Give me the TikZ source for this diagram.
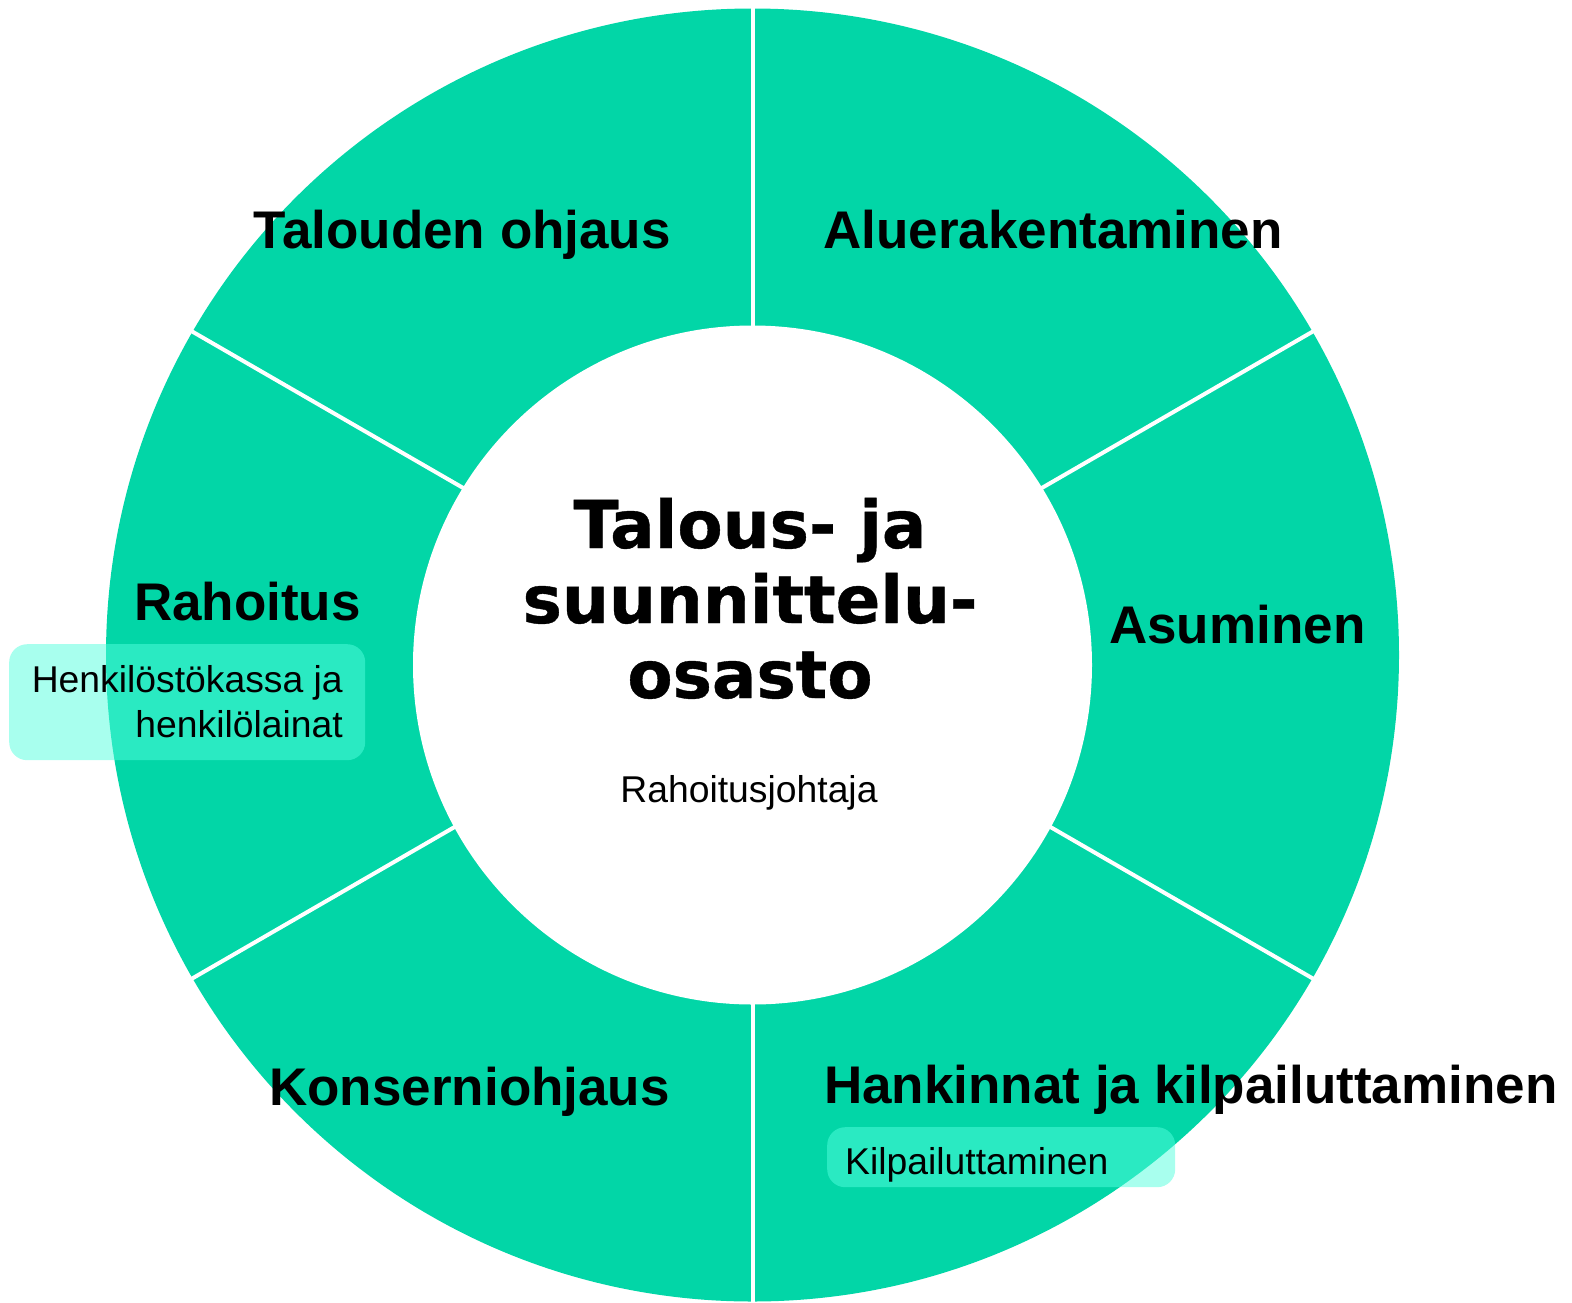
\documentclass[tikz,border=0pt]{standalone}
\usepackage{fontspec}
\setmainfont{Liberation Sans}
\newfontfamily\titlefont{DejaVu Sans}[BoldFeatures={FakeBold=0.6}]
\definecolor{ringgreen}{RGB}{2,214,167}
\definecolor{hlcol}{RGB}{82,255,222}
\begin{document}
\begin{tikzpicture}[x=1pt,y=-1pt,
  seg/.style={font=\bfseries\fontsize{53}{60}\selectfont, inner sep=0pt},
  sub/.style={font=\fontsize{37.3}{43}\selectfont, inner sep=0pt},
  hlbox/.style={fill=hlcol, fill opacity=0.5, rounded corners=18pt, draw=none, inner sep=0pt},
  sepline/.style={white, line width=4pt}]
\useasboundingbox (0,0) rectangle (1572,1302);
\coordinate (c) at (752.5,655);
\coordinate (ci) at (752.5,665);
\fill[ringgreen] (c) circle (646.5);
\foreach \a in {30,90,150,210,270,330} \draw[sepline] (c) -- ++(\a:652);
\fill[white] (ci) circle (339.5);
% title
\node[font=\titlefont\bfseries\fontsize{66}{75}\selectfont, align=center, inner sep=0pt, anchor=base] (title) at (750,698) {Talous- ja\\suunnittelu-\\osasto};
\node[sub, anchor=base] (lead) at (749,802) {Rahoitusjohtaja};
% segment labels
\node[seg, anchor=base east] (tal) at (671,248) {Talouden ohjaus};
\node[seg, anchor=base west] (alu) at (823,248) {Aluerakentaminen};
\node[seg, anchor=base west] (asu) at (1109,643) {Asuminen};
\node[seg, anchor=base east] (rah) at (361,620) {Rahoitus};
\node[seg, anchor=base east] (kon) at (670,1105) {Konserniohjaus};
\node[seg, anchor=base west] (han) at (824,1103) {Hankinnat ja kilpailuttaminen};
% highlight boxes
\node[hlbox, minimum width=356pt, minimum height=116pt, anchor=north west] (box1) at (9,644) {};
\node[sub, anchor=base east] (hk1) at (343,692.5) {Henkilöstökassa ja};
\node[sub, anchor=base east] (hk2) at (343,737) {henkilölainat};
\node[hlbox, minimum width=348pt, minimum height=60pt, anchor=north west] (box2) at (827,1127) {};
\node[sub, anchor=base west] (kil) at (845,1174) {Kilpailuttaminen};
\end{tikzpicture}
\end{document}
